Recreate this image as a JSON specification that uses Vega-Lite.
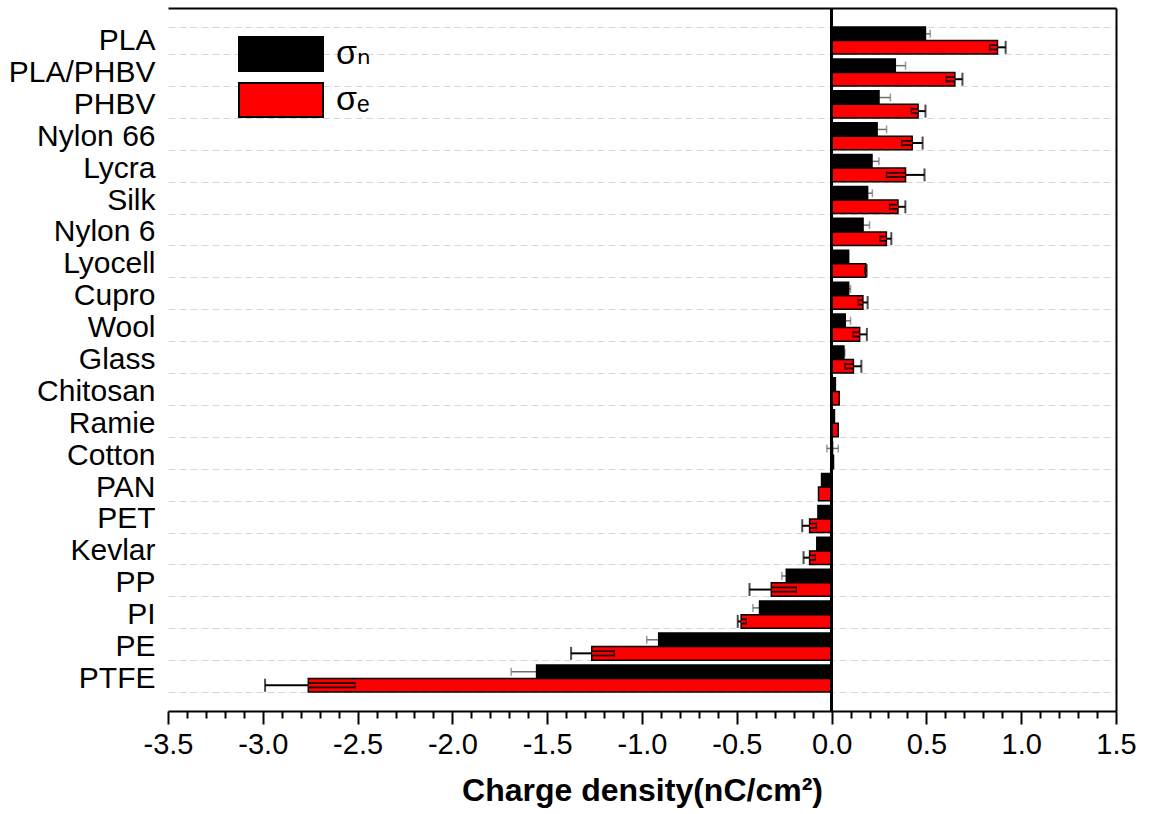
{
  "$schema": "https://vega.github.io/schema/vega-lite/v6.json",
  "width": 948,
  "height": 703,
  "autosize": {"type": "none"},
  "padding": {"left": 168, "top": 8, "right": 33, "bottom": 103},
  "background": "white",
  "config": {
    "view": {"stroke": null},
    "font": "Liberation Sans",
    "axis": {"labelFont": "Liberation Sans", "titleFont": "Liberation Sans", "labelColor": "black", "titleColor": "black"}
  },
  "data": {
    "values": [
      {"m": "PLA", "s": "n", "v": 0.495, "inner": 0.47, "outer": 0.52},
      {"m": "PLA", "s": "e", "v": 0.875, "inner": 0.834, "outer": 0.918},
      {"m": "PLA/PHBV", "s": "n", "v": 0.336, "inner": 0.282, "outer": 0.39},
      {"m": "PLA/PHBV", "s": "e", "v": 0.65, "inner": 0.605, "outer": 0.69},
      {"m": "PHBV", "s": "n", "v": 0.25, "inner": 0.19, "outer": 0.31},
      {"m": "PHBV", "s": "e", "v": 0.456, "inner": 0.42, "outer": 0.495},
      {"m": "Nylon 66", "s": "n", "v": 0.24, "inner": 0.19, "outer": 0.29},
      {"m": "Nylon 66", "s": "e", "v": 0.425, "inner": 0.37, "outer": 0.48},
      {"m": "Lycra", "s": "n", "v": 0.213, "inner": 0.176, "outer": 0.25},
      {"m": "Lycra", "s": "e", "v": 0.39, "inner": 0.29, "outer": 0.49},
      {"m": "Silk", "s": "n", "v": 0.19, "inner": 0.165, "outer": 0.215},
      {"m": "Silk", "s": "e", "v": 0.35, "inner": 0.306, "outer": 0.389},
      {"m": "Nylon 6", "s": "n", "v": 0.166, "inner": 0.132, "outer": 0.2},
      {"m": "Nylon 6", "s": "e", "v": 0.289, "inner": 0.255, "outer": 0.315},
      {"m": "Lyocell", "s": "n", "v": 0.09, "inner": 0.09, "outer": 0.09},
      {"m": "Lyocell", "s": "e", "v": 0.18, "inner": 0.175, "outer": 0.185},
      {"m": "Cupro", "s": "n", "v": 0.09, "inner": 0.08, "outer": 0.1},
      {"m": "Cupro", "s": "e", "v": 0.165, "inner": 0.14, "outer": 0.19},
      {"m": "Wool", "s": "n", "v": 0.072, "inner": 0.044, "outer": 0.1},
      {"m": "Wool", "s": "e", "v": 0.148, "inner": 0.113, "outer": 0.186},
      {"m": "Glass", "s": "n", "v": 0.065, "inner": 0.06, "outer": 0.07},
      {"m": "Glass", "s": "e", "v": 0.115, "inner": 0.07, "outer": 0.157},
      {"m": "Chitosan", "s": "n", "v": 0.02, "inner": 0.02, "outer": 0.02},
      {"m": "Chitosan", "s": "e", "v": 0.04, "inner": 0.04, "outer": 0.04},
      {"m": "Ramie", "s": "n", "v": 0.015, "inner": 0.015, "outer": 0.015},
      {"m": "Ramie", "s": "e", "v": 0.035, "inner": 0.035, "outer": 0.035},
      {"m": "Cotton", "s": "n", "v": 0.005, "inner": -0.025, "outer": 0.035},
      {"m": "Cotton", "s": "e", "v": 0.01, "inner": 0.01, "outer": 0.01},
      {"m": "PAN", "s": "n", "v": -0.053, "inner": -0.053, "outer": -0.053},
      {"m": "PAN", "s": "e", "v": -0.069, "inner": -0.069, "outer": -0.069},
      {"m": "PET", "s": "n", "v": -0.072, "inner": -0.072, "outer": -0.072},
      {"m": "PET", "s": "e", "v": -0.116, "inner": -0.08, "outer": -0.155},
      {"m": "Kevlar", "s": "n", "v": -0.078, "inner": -0.078, "outer": -0.078},
      {"m": "Kevlar", "s": "e", "v": -0.116, "inner": -0.086, "outer": -0.148},
      {"m": "PP", "s": "n", "v": -0.239, "inner": -0.216, "outer": -0.262},
      {"m": "PP", "s": "e", "v": -0.318, "inner": -0.186, "outer": -0.433},
      {"m": "PI", "s": "n", "v": -0.38, "inner": -0.345, "outer": -0.415},
      {"m": "PI", "s": "e", "v": -0.477, "inner": -0.45, "outer": -0.495},
      {"m": "PE", "s": "n", "v": -0.912, "inner": -0.85, "outer": -0.975},
      {"m": "PE", "s": "e", "v": -1.265, "inner": -1.146, "outer": -1.374},
      {"m": "PTFE", "s": "n", "v": -1.556, "inner": -1.42, "outer": -1.69},
      {"m": "PTFE", "s": "e", "v": -2.76, "inner": -2.513, "outer": -2.988}
    ]
  },
  "layer": [
    {
      "transform": [{"filter": "datum.s == 'n' && datum.outer != datum.v"}],
      "mark": {"type": "rule", "color": "#707070", "strokeWidth": 1.5},
      "encoding": {
        "x": {"field": "inner", "type": "quantitative", "axis": null},
        "x2": {"field": "outer"},
        "y": {"field": "m", "type": "nominal", "sort": null, "axis": null},
        "yOffset": {"field": "s", "type": "nominal", "scale": {"domain": ["n", "e"]}}
      }
    },
    {
      "transform": [{"filter": "datum.s == 'n' && datum.outer != datum.v"}],
      "mark": {"type": "tick", "color": "#707070", "thickness": 1.5, "size": 8, "orient": "vertical"},
      "encoding": {
        "x": {"field": "outer", "type": "quantitative", "axis": null},
        "y": {"field": "m", "type": "nominal", "sort": null, "axis": null},
        "yOffset": {"field": "s", "type": "nominal", "scale": {"domain": ["n", "e"]}}
      }
    },
    {
      "transform": [{"filter": "datum.s == 'n' && datum.outer != datum.v"}],
      "mark": {"type": "tick", "color": "#707070", "thickness": 1.5, "size": 8, "orient": "vertical"},
      "encoding": {
        "x": {"field": "inner", "type": "quantitative", "axis": null},
        "y": {"field": "m", "type": "nominal", "sort": null, "axis": null},
        "yOffset": {"field": "s", "type": "nominal", "scale": {"domain": ["n", "e"]}}
      }
    },
    {
      "mark": {"type": "bar", "stroke": "black", "strokeWidth": 1.5},
      "encoding": {
        "x": {
          "field": "v",
          "type": "quantitative",
          "scale": {"domain": [-3.5, 1.5], "nice": false, "zero": false},
          "axis": {
            "orient": "bottom",
            "title": "Charge density(nC/cm²)",
            "titleFontSize": 32,
            "titleFontWeight": "bold",
            "titlePadding": 16,
            "grid": false,
            "domainColor": "black",
            "domainWidth": 2,
            "tickColor": "black",
            "tickWidth": 2,
            "values": [-3.5,-3.4,-3.3,-3.2,-3.1,-3.0,-2.9,-2.8,-2.7,-2.6,-2.5,-2.4,-2.3,-2.2,-2.1,-2.0,-1.9,-1.8,-1.7,-1.6,-1.5,-1.4,-1.3,-1.2,-1.1,-1.0,-0.9,-0.8,-0.7,-0.6,-0.5,-0.4,-0.3,-0.2,-0.1,0,0.1,0.2,0.3,0.4,0.5,0.6,0.7,0.8,0.9,1.0,1.1,1.2,1.3,1.4,1.5],
            "tickSize": {"condition": {"test": "abs(datum.value * 2 - round(datum.value * 2)) < 0.001", "value": 13}, "value": 7},
            "labelExpr": "abs(datum.value * 2 - round(datum.value * 2)) < 0.001 ? replace(format(datum.value, '.1f'), '\u2212', '-') : ''",
            "labelFontSize": 29,
            "labelPadding": 6,
            "labelOverlap": false,
            "labelFlush": false
          }
        },
        "y": {
          "field": "m",
          "type": "nominal",
          "sort": null,
          "scale": {
            "domain": ["PLA", "PLA/PHBV", "PHBV", "Nylon 66", "Lycra", "Silk", "Nylon 6", "Lyocell", "Cupro", "Wool", "Glass", "Chitosan", "Ramie", "Cotton", "PAN", "PET", "Kevlar", "PP", "PI", "PE", "PTFE"],
            "paddingInner": 0.15,
            "paddingOuter": 0.595
          },
          "axis": {
            "title": null,
            "orient": "left",
            "domain": false,
            "ticks": false,
            "labelFontSize": 30,
            "labelPadding": 13,
            "grid": true,
            "gridColor": "#d6d6d6",
            "gridDash": [7, 4],
            "gridWidth": 1,
            "tickBand": "extent"
          }
        },
        "yOffset": {"field": "s", "type": "nominal", "scale": {"domain": ["n", "e"], "paddingInner": 0, "paddingOuter": 0}},
        "color": {
          "field": "s",
          "type": "nominal",
          "scale": {"domain": ["n", "e"], "range": ["#000000", "#ff0000"]},
          "legend": {
            "orient": "none",
            "legendX": 91,
            "legendY": 24,
            "title": null,
            "padding": 0,
            "symbolType": "M-2,-0.81H2V0.81H-2Z",
            "symbolSize": 1764,
            "symbolStrokeColor": "black",
            "symbolStrokeWidth": 2,
            "labelFont": "Liberation Sans, DejaVu Sans",
            "labelFontSize": 34,
            "labelColor": "black",
            "labelOffset": 33,
            "rowPadding": 2,
            "labelExpr": "datum.label == 'n' ? 'σₙ' : 'σₑ'"
          }
        }
      }
    },
    {
      "transform": [{"filter": "datum.s == 'e' && datum.inner != datum.v"}],
      "mark": {"type": "rule", "color": "#1a0000", "strokeWidth": 6},
      "encoding": {
        "x": {"field": "inner", "type": "quantitative", "axis": null},
        "x2": {"field": "v"},
        "y": {"field": "m", "type": "nominal", "sort": null, "axis": null},
        "yOffset": {"field": "s", "type": "nominal", "scale": {"domain": ["n", "e"]}}
      }
    },
    {
      "transform": [{"filter": "datum.s == 'e' && datum.inner != datum.v"}],
      "mark": {"type": "rule", "color": "#ff0000", "strokeWidth": 2.5},
      "encoding": {
        "x": {"field": "inner", "type": "quantitative", "axis": null},
        "x2": {"field": "v"},
        "y": {"field": "m", "type": "nominal", "sort": null, "axis": null},
        "yOffset": {"field": "s", "type": "nominal", "scale": {"domain": ["n", "e"]}}
      }
    },
    {
      "transform": [{"filter": "datum.s == 'e' && datum.outer != datum.v"}],
      "mark": {"type": "rule", "color": "black", "strokeWidth": 2},
      "encoding": {
        "x": {
          "field": "v",
          "type": "quantitative",
          "axis": {"orient": "top", "labels": false, "ticks": false, "grid": false, "title": null, "domainColor": "black", "domainWidth": 2}
        },
        "x2": {"field": "outer"},
        "y": {
          "field": "m",
          "type": "nominal",
          "sort": null,
          "axis": {"orient": "right", "labels": false, "ticks": false, "grid": false, "title": null, "domainColor": "black", "domainWidth": 2}
        },
        "yOffset": {"field": "s", "type": "nominal", "scale": {"domain": ["n", "e"]}}
      }
    },
    {
      "transform": [{"filter": "datum.s == 'e' && datum.outer != datum.v"}],
      "mark": {"type": "tick", "color": "black", "thickness": 2, "size": 13, "orient": "vertical"},
      "encoding": {
        "x": {"field": "outer", "type": "quantitative", "axis": null},
        "y": {"field": "m", "type": "nominal", "sort": null, "axis": null},
        "yOffset": {"field": "s", "type": "nominal", "scale": {"domain": ["n", "e"]}}
      }
    },
    {
      "transform": [{"filter": "datum.s == 'e' && datum.inner != datum.v"}],
      "mark": {"type": "tick", "color": "#1a0000", "thickness": 1.5, "size": 7, "orient": "vertical"},
      "encoding": {
        "x": {"field": "inner", "type": "quantitative", "axis": null},
        "y": {"field": "m", "type": "nominal", "sort": null, "axis": null},
        "yOffset": {"field": "s", "type": "nominal", "scale": {"domain": ["n", "e"]}}
      }
    },
    {
      "mark": {"type": "rule", "color": "black", "strokeWidth": 2},
      "encoding": {
        "x": {"datum": 0, "type": "quantitative", "axis": null}
      }
    }
  ],
  "resolve": {"axis": {"x": "independent", "y": "independent"}}
}
